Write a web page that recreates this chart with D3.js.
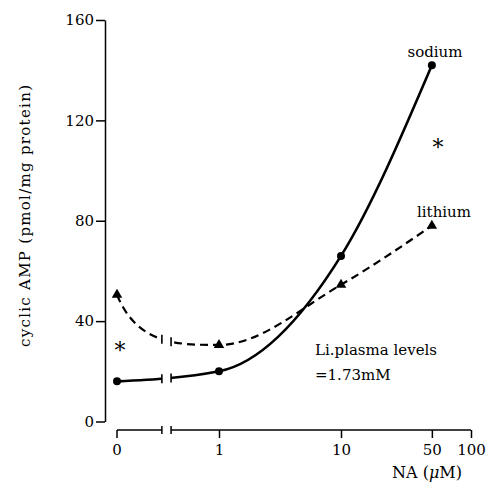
<!DOCTYPE html>
<html><head><meta charset="utf-8">
<script src="https://cdn.jsdelivr.net/npm/d3@7"></script>
<style>html,body{margin:0;padding:0;background:#fff}svg{display:block}</style>
</head><body>
<svg id="c" width="486" height="486"></svg>
<script>
// ---- data ----
const concentrations = [0, 1, 10, 50];
const sodiumValues = [16, 20, 66, 142];
const lithiumValues = [50.5, 30.5, 54.5, 78];
const yTickValues = [0, 40, 80, 120, 160];
const xTickValues = [1, 10, 50, 100];
const xTickLabels = ["1", "10", "50", "100"];
const zeroLabel = "0";

// ---- layout ----
const svg = d3.select("#c");
const font = "DejaVu Serif";
const y = d3.scaleLinear().domain([0, 160]).range([421.5, 20]);
const xLog = d3.scaleLog().domain([1, 10, 100]).range([219, 341, 471]);
const x0 = 117;
const xPos = d => d === 0 ? x0 : xLog(d);
const gapL = x0 + 0.44 * (xLog(1) - x0), gapR = x0 + 0.53 * (xLog(1) - x0);
const xAxisY = 430, yAxisX = 105;

svg.append("rect").attr("width", 486).attr("height", 486).attr("fill", "#fff");

// y axis
const gy = svg.append("g").attr("transform", `translate(${yAxisX},0)`)
  .call(d3.axisLeft(y).tickValues(yTickValues).tickSize(9).tickPadding(2).tickSizeOuter(0));
gy.select(".domain").attr("stroke-width", 1.5);
gy.selectAll(".tick line").attr("stroke-width", 1.5);
gy.selectAll("text").attr("font-family", font).attr("font-size", 15).attr("fill", "#000");

// x axis (with break)
const gx = svg.append("g").attr("transform", `translate(0,${xAxisY})`);
const ax = gx.append("g").call(d3.axisBottom(xLog).tickValues(xTickValues)
  .tickFormat((d, i) => xTickLabels[i]).tickSize(8).tickPadding(6).tickSizeOuter(0));
ax.select(".domain").remove();
ax.selectAll(".tick line").attr("stroke-width", 1.5);
ax.selectAll("text").attr("font-family", font).attr("font-size", 15).attr("fill", "#000");
const lineStyle = s => s.attr("stroke", "#000").attr("stroke-width", 1.5);
gx.append("line").attr("x1", x0).attr("x2", gapL).attr("y1", 0).attr("y2", 0).call(lineStyle);
gx.append("line").attr("x1", gapR).attr("x2", xLog(100)).attr("y1", 0).attr("y2", 0).call(lineStyle);
[gapL, gapR].forEach(b => gx.append("line").attr("x1", b).attr("x2", b).attr("y1", -4).attr("y2", 4).call(lineStyle));
gx.append("line").attr("x1", x0).attr("x2", x0).attr("y1", 0).attr("y2", 8).call(lineStyle);
gx.append("text").attr("x", x0).attr("y", 14).attr("dy", "0.71em").attr("text-anchor", "middle")
  .attr("font-family", font).attr("font-size", 15).text(zeroLabel);

// clip for break gap
const cp = svg.append("defs").append("clipPath").attr("id", "gap");
cp.append("rect").attr("x", 0).attr("y", 0).attr("width", gapL).attr("height", 486);
cp.append("rect").attr("x", gapR).attr("y", 0).attr("width", 486 - gapR).attr("height", 486);

const sodium = concentrations.map((c, i) => ({x: c, v: sodiumValues[i]}));
const lithium = concentrations.map((c, i) => ({x: c, v: lithiumValues[i]}));

// context wrapper: first segment drawn as a fast "decay" bezier, rest monotone
function decayFirst(ctx) {
  let n = 0, sx = 0, sy = 0;
  return {
    moveTo(x, yy) { sx = x; sy = yy; ctx.moveTo(x, yy); },
    lineTo(x, yy) { ctx.lineTo(x, yy); },
    bezierCurveTo(a, b, c, d, x, yy) {
      if (n++ === 0) { const dx = x - sx; ctx.bezierCurveTo(sx + 0.2 * dx, yy, sx + 0.6 * dx, yy, x, yy); }
      else ctx.bezierCurveTo(a, b, c, d, x, yy);
    },
    closePath() { ctx.closePath(); }
  };
}
function pathFor(data, decay) {
  const lg = d3.line().x(d => xPos(d.x)).y(d => y(d.v)).curve(d3.curveMonotoneX);
  if (!decay) return lg(data);
  const p = d3.path();
  lg.context(decayFirst(p))(data);
  return p.toString();
}

function yAtX(node, xt) {
  let lo = 0, hi = node.getTotalLength();
  for (let k = 0; k < 40; k++) {
    const mid = (lo + hi) / 2;
    if (node.getPointAtLength(mid).x < xt) lo = mid; else hi = mid;
  }
  return node.getPointAtLength(lo).y;
}

function drawSeries(data, dash, width, decay) {
  const p = svg.append("path").attr("d", pathFor(data, decay)).attr("fill", "none")
    .attr("stroke", "#000").attr("stroke-width", width).attr("clip-path", "url(#gap)");
  if (dash) p.attr("stroke-dasharray", dash);
  const node = p.node();
  [gapL, gapR].forEach(b => {
    const yy = yAtX(node, b);
    svg.append("line").attr("x1", b).attr("x2", b).attr("y1", yy - 4.5).attr("y2", yy + 4.5)
      .attr("stroke", "#000").attr("stroke-width", 1.6);
  });
}
drawSeries(sodium, null, 2.6, false);
drawSeries(lithium, "8,5", 2.2, true);

svg.selectAll("circle.na").data(sodium).join("circle").attr("class", "na")
  .attr("cx", d => xPos(d.x)).attr("cy", d => y(d.v)).attr("r", 4).attr("fill", "#000");
svg.selectAll("path.li").data(lithium).join("path").attr("class", "li")
  .attr("d", d3.symbol(d3.symbolTriangle).size(48))
  .attr("transform", d => `translate(${xPos(d.x)},${y(d.v)})`).attr("fill", "#000");

// annotations
const txt = (x, yv, s, size, anchor) => svg.append("text").attr("x", x).attr("y", yv)
  .attr("font-family", font).attr("font-size", size).attr("text-anchor", anchor || "start").text(s);
txt(435, 57, "sodium", 15, "middle");
txt(444, 217, "lithium", 15, "middle");
txt(438, 155, "*", 22, "middle");
txt(120, 358, "*", 22, "middle");
txt(315, 355, "Li.plasma levels", 15);
txt(315, 380, "=1.73mM", 15);

// x title
const xt = svg.append("text").attr("x", 392).attr("y", 478).attr("font-family", font).attr("font-size", 16);
xt.append("tspan").text("NA (");
xt.append("tspan").attr("font-style", "italic").text("μ");
xt.append("tspan").text("M)");

// y title
const yt = svg.append("text").attr("transform", "translate(30,216) rotate(-90)")
  .attr("text-anchor", "middle").attr("font-family", font)
  .attr("textLength", 262).attr("lengthAdjust", "spacing");
yt.append("tspan").attr("font-size", 15).text("cyclic AMP ");
yt.append("tspan").attr("font-size", 15).text("(pmol/mg protein)");
</script>
</body></html>
